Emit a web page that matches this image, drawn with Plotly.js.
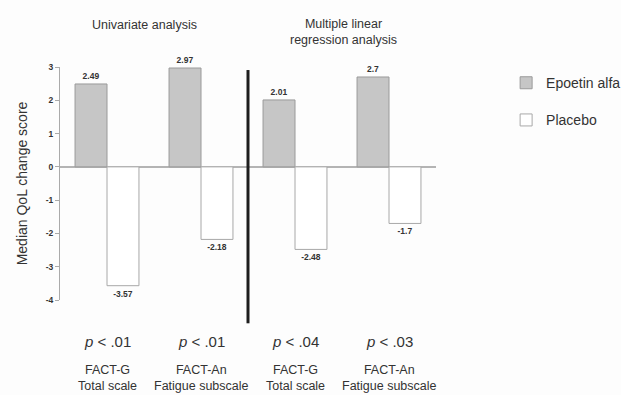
<!DOCTYPE html>
<html><head><meta charset="utf-8">
<script src="https://cdn.plot.ly/plotly-3.0.1.min.js"></script>
<style>html,body{margin:0;padding:0;background:#fff}</style>
</head><body><div id="chart" style="width:621px;height:395px"></div>
<script>
const categories = ['FACT-G<br>Total scale', 'FACT-An<br>Fatigue subscale', 'FACT-G<br>Total scale', 'FACT-An<br>Fatigue subscale'];
const pValues = ['<i>p</i> < .01', '<i>p</i> < .01', '<i>p</i> < .04', '<i>p</i> < .03'];
const epoetin = [2.49, 2.97, 2.01, 2.7];
const placebo = [-3.57, -2.18, -2.48, -1.7];
const sectionTitles = ['Univariate analysis', 'Multiple linear<br>regression analysis'];
const sectionX = [0.4, 2.52];
const yTicks = [3, 2, 1, 0, -1, -2, -3, -4];

const xIdx = categories.map((c, i) => i);
const lib = '"Liberation Sans", Arial, sans-serif';
const txtFont = {family: lib, size: 8.5, color: '#333', weight: 'bold'};

const traces = [
  {type: 'bar', name: 'Epoetin alfa', x: xIdx, y: epoetin, legendgroup: 'a',
   marker: {color: '#c6c6c6', line: {color: '#9a9a9a', width: 1}},
   text: epoetin.map(String), textposition: 'outside', cliponaxis: false,
   textfont: txtFont, hoverinfo: 'none'},
  {type: 'bar', name: 'Placebo', x: xIdx, y: placebo, legendgroup: 'b',
   marker: {color: '#ffffff', line: {color: '#a8a8a8', width: 1}},
   text: placebo.map(String), textposition: 'outside', cliponaxis: false,
   textfont: txtFont, hoverinfo: 'none'}
];

const annotations = [];
sectionTitles.forEach((t, i) => annotations.push({
  text: t, x: sectionX[i], xref: 'x', y: i === 0 ? 1.18 : 1.15, yref: 'paper',
  yanchor: 'middle', showarrow: false, font: {family: lib, size: 12.5, color: '#333'}
}));
xIdx.forEach(i => {
  annotations.push({text: pValues[i], x: i, xref: 'x', y: -0.18, yref: 'paper',
    yanchor: 'middle', showarrow: false, font: {family: lib, size: 15, color: '#333'}});
  annotations.push({text: categories[i], x: i, xref: 'x', y: -0.335, yref: 'paper',
    yanchor: 'middle', showarrow: false, font: {family: lib, size: 12.5, color: '#333'}});
});

const layout = {
  width: 621, height: 395,
  margin: {l: 60, r: 185, t: 67, b: 95, autoexpand: false},
  paper_bgcolor: '#fdfdfd', plot_bgcolor: '#fdfdfd',
  barmode: 'group', bargap: 0.32, bargroupgap: 0,
  showlegend: true,
  legend: {xref: 'container', yref: 'container', x: 0.815, xanchor: 'left', y: 0.83, yanchor: 'top',
    traceorder: 'grouped', tracegroupgap: 16,
    font: {family: lib, size: 14, color: '#333'}, bgcolor: 'rgba(0,0,0,0)'},
  xaxis: {range: [-0.5, 3.5], showticklabels: false, ticks: '', showgrid: false,
    zeroline: false, showline: false, fixedrange: true},
  yaxis: {range: [-4, 3], tickvals: yTicks, ticktext: yTicks.map(String),
    ticks: 'outside', ticklen: 4, tickcolor: '#aaa', showline: true, linecolor: '#aaa',
    linewidth: 1, showgrid: false, zeroline: true, zerolinecolor: '#b4b4b4', zerolinewidth: 1.5,
    tickfont: {family: lib, size: 8.5, color: '#333', weight: 'bold'},
    title: {text: 'Median QoL change score', standoff: 14,
      font: {family: lib, size: 14, color: '#333'}}},
  shapes: [{type: 'line', xref: 'paper', yref: 'paper', x0: 0.5, x1: 0.5, y0: -0.1, y1: 0.987,
    line: {color: '#1e1e1e', width: 3}}],
  annotations: annotations
};

Plotly.newPlot('chart', traces, layout, {displayModeBar: false, staticPlot: true});
</script></body></html>
